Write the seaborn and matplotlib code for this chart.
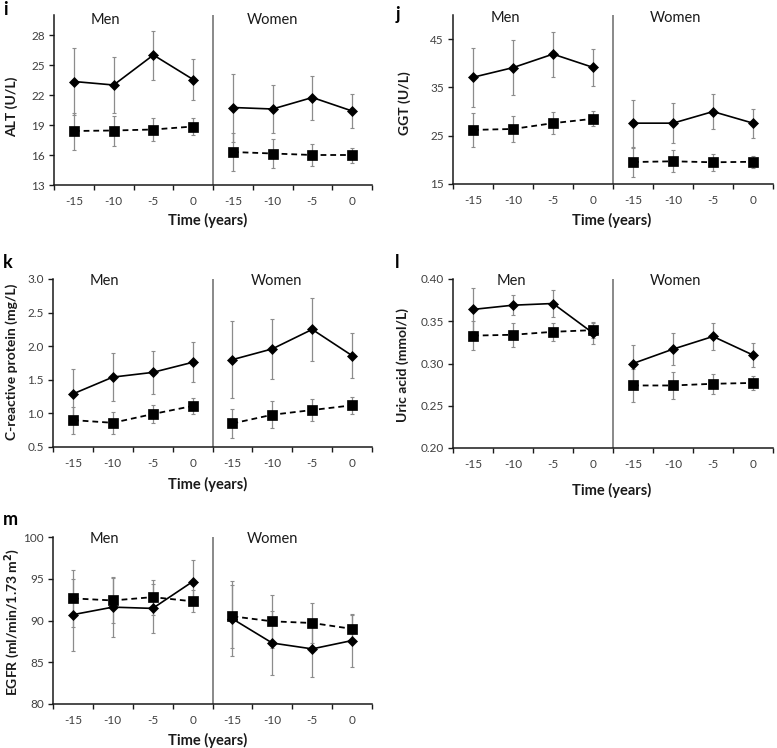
import numpy as np
import pandas as pd
import matplotlib
matplotlib.use("Agg")
import matplotlib.pyplot as plt
import seaborn as sns

# ---------------- data ----------------
times = [-15, -10, -5, 0]
sexes = ["Men", "Women"]

# ALT (U/L)
alt_men_solid = [23.35, 23.0, 26.0, 23.55]
alt_men_solid_err = [3.35, 2.8, 2.45, 2.05]
alt_men_dash = [18.4, 18.45, 18.55, 18.85]
alt_men_dash_err = [1.85, 1.5, 1.15, 0.85]
alt_women_solid = [20.75, 20.6, 21.75, 20.4]
alt_women_solid_err = [3.4, 2.35, 2.2, 1.7]
alt_women_dash = [16.3, 16.15, 16.0, 16.0]
alt_women_dash_err = [1.85, 1.45, 1.1, 0.75]

# GGT (U/L)
ggt_men_solid = [37.1, 39.1, 41.9, 39.15]
ggt_men_solid_err = [6.05, 5.7, 4.65, 3.9]
ggt_men_dash = [26.2, 26.4, 27.6, 28.5]
ggt_men_dash_err = [3.5, 2.75, 2.3, 1.55]
ggt_women_solid = [27.6, 27.6, 30.0, 27.6]
ggt_women_solid_err = [4.85, 4.2, 3.6, 3.0]
ggt_women_dash = [19.55, 19.7, 19.5, 19.6]
ggt_women_dash_err = [3.0, 2.3, 1.8, 1.2]

# C-reactive protein (mg/L)
crp_men_solid = [1.29, 1.54, 1.61, 1.76]
crp_men_solid_err = [0.37, 0.36, 0.32, 0.30]
crp_men_dash = [0.90, 0.86, 0.99, 1.11]
crp_men_dash_err = [0.20, 0.16, 0.14, 0.12]
crp_women_solid = [1.80, 1.96, 2.25, 1.86]
crp_women_solid_err = [0.57, 0.45, 0.47, 0.34]
crp_women_dash = [0.85, 0.98, 1.05, 1.12]
crp_women_dash_err = [0.22, 0.20, 0.16, 0.13]

# Uric acid (mmol/L)
ua_men_solid = [0.364, 0.369, 0.371, 0.336]
ua_men_solid_err = [0.025, 0.012, 0.016, 0.013]
ua_men_dash = [0.333, 0.334, 0.3375, 0.3395]
ua_men_dash_err = [0.017, 0.014, 0.011, 0.009]
ua_women_solid = [0.300, 0.317, 0.332, 0.310]
ua_women_solid_err = [0.022, 0.019, 0.016, 0.014]
ua_women_dash = [0.274, 0.274, 0.276, 0.277]
ua_women_dash_err = [0.019, 0.016, 0.012, 0.008]

# EGFR (ml/min/1.73 m2)
egfr_men_solid = [90.7, 91.6, 91.45, 94.65]
egfr_men_solid_err = [4.3, 3.6, 2.9, 2.65]
egfr_men_dash = [92.65, 92.4, 92.8, 92.3]
egfr_men_dash_err = [3.4, 2.7, 2.1, 1.3]
egfr_women_solid = [90.2, 87.3, 86.6, 87.6]
egfr_women_solid_err = [4.5, 3.8, 3.4, 3.2]
egfr_women_dash = [90.5, 89.9, 89.7, 89.0]
egfr_women_dash_err = [3.8, 3.2, 2.4, 1.6]

# y-axis tick labels
alt_ticks = [13, 16, 19, 22, 25, 28]
ggt_ticks = [15, 25, 35, 45]
crp_ticks = [0.5, 1.0, 1.5, 2.0, 2.5, 3.0]
ua_ticks = [0.20, 0.25, 0.30, 0.35, 0.40]
egfr_ticks = [80, 85, 90, 95, 100]

# ---------------- style ----------------
sns.set_theme(style="white")
plt.rcParams["font.family"] = ["Lato", "DejaVu Sans"]

W, H = 777, 748
fig = plt.figure(figsize=(W / 100, H / 100), dpi=100)
fig.patch.set_facecolor("white")

AX_COLOR = "#1a1a1a"
TICK_COLOR = "#404040"
ERR_COLOR = "#8c8c8c"


def px_axes(l, r, t, b):
    return fig.add_axes([l / W, 1 - b / H, (r - l) / W, (b - t) / H])


panels = [
    dict(letter="i", box=(54, 372, 15, 185), ylim=(13, 30), ticks=alt_ticks, fmt="{:.0f}",
         ylabel="ALT (U/L)",
         ms=alt_men_solid, mse=alt_men_solid_err, md=alt_men_dash, mde=alt_men_dash_err,
         ws=alt_women_solid, wse=alt_women_solid_err, wd=alt_women_dash, wde=alt_women_dash_err,
         men=(0.8, 20), women=(5.0, 20), xl=(208, 220), yl=(12, 107), lt=(3, 15)),
    dict(letter="j", box=(453, 773, 15, 184), ylim=(15, 50), ticks=ggt_ticks, fmt="{:.0f}",
         ylabel="GGT (U/L)",
         ms=ggt_men_solid, mse=ggt_men_solid_err, md=ggt_men_dash, mde=ggt_men_dash_err,
         ws=ggt_women_solid, wse=ggt_women_solid_err, wd=ggt_women_dash, wde=ggt_women_dash_err,
         men=(0.8, 18), women=(5.05, 18), xl=(612, 220), yl=(405, 103), lt=(396, 20)),
    dict(letter="k", box=(53, 372, 279, 447), ylim=(0.5, 3.0), ticks=crp_ticks, fmt="{:.1f}",
         ylabel="C-reactive protein (mg/L)",
         ms=crp_men_solid, mse=crp_men_solid_err, md=crp_men_dash, mde=crp_men_dash_err,
         ws=crp_women_solid, wse=crp_women_solid_err, wd=crp_women_dash, wde=crp_women_dash_err,
         men=(0.8, 281), women=(5.1, 281), xl=(208, 484), yl=(12, 362), lt=(3, 268)),
    dict(letter="l", box=(453, 773, 279, 448), ylim=(0.20, 0.40), ticks=ua_ticks, fmt="{:.2f}",
         ylabel="Uric acid (mmol/L)",
         ms=ua_men_solid, mse=ua_men_solid_err, md=ua_men_dash, mde=ua_men_dash_err,
         ws=ua_women_solid, wse=ua_women_solid_err, wd=ua_women_dash, wde=ua_women_dash_err,
         men=(0.97, 281), women=(5.05, 281), xl=(612, 490), yl=(403, 365), lt=(395, 268)),
    dict(letter="m", box=(53, 372, 537, 704), ylim=(80, 100), ticks=egfr_ticks, fmt="{:.0f}",
         ylabel="EGFR (ml/min/1.73 m$^{\\mathbf{2}}$)",
         ms=egfr_men_solid, mse=egfr_men_solid_err, md=egfr_men_dash, mde=egfr_men_dash_err,
         ws=egfr_women_solid, wse=egfr_women_solid_err, wd=egfr_women_dash, wde=egfr_women_dash_err,
         men=(0.78, 539), women=(5.0, 539), xl=(208, 740), yl=(12, 622), lt=(3, 525)),
]

cat_labels = [str(t) for t in times] * 2

for p in panels:
    l, r, t, b = p["box"]
    ax = px_axes(l, r, t, b)
    ax.set_facecolor("white")

    series = [
        (p["ms"], p["mse"], 0, "solid"),
        (p["md"], p["mde"], 0, "dash"),
        (p["ws"], p["wse"], 4, "solid"),
        (p["wd"], p["wde"], 4, "dash"),
    ]
    # error bars first (behind)
    for vals, errs, off, kind in series:
        pos = np.arange(len(vals)) + off
        ax.errorbar(pos, vals, yerr=errs, fmt="none", ecolor=ERR_COLOR,
                    elinewidth=0.9, capsize=1.6, capthick=0.8, zorder=2)
    for vals, errs, off, kind in series:
        pos = np.arange(len(vals)) + off
        df = pd.DataFrame({"pos": pos, "val": vals})
        if kind == "solid":
            sns.lineplot(data=df, x="pos", y="val", ax=ax, color="black", lw=1.2,
                         marker="D", markersize=5.6, markeredgecolor="black",
                         markeredgewidth=0.5, zorder=4, errorbar=None)
        else:
            sns.lineplot(data=df, x="pos", y="val", ax=ax, color="black", lw=1.3,
                         marker="s", markersize=7.0, markeredgecolor="black",
                         markeredgewidth=0.5, dashes=False, zorder=3, errorbar=None,
                         linestyle=(0, (3.2, 2.2)))

    ax.set_xlim(-0.5, 7.5)
    ax.set_ylim(*p["ylim"])
    ax.axvline(3.5, color="#808080", lw=1.3, zorder=1)

    ax.set_xticks(np.arange(8))
    ax.set_xticklabels(cat_labels)
    ax.set_xticks(np.arange(-0.5, 8.0, 1.0), minor=True)
    ax.tick_params(axis="x", which="major", length=0, pad=8, labelsize=8.5,
                   labelcolor=TICK_COLOR)
    ax.tick_params(axis="x", which="minor", length=3.5, width=1.0, color=AX_COLOR,
                   direction="out", bottom=True)
    ax.set_yticks(p["ticks"])
    ax.set_yticklabels([p["fmt"].format(v) for v in p["ticks"]])
    ax.tick_params(axis="y", which="major", length=3.5, width=1.0, color=AX_COLOR,
                   direction="out", left=True, pad=3, labelsize=8.5,
                   labelcolor=TICK_COLOR)

    for s in ["top", "right"]:
        ax.spines[s].set_visible(False)
    for s in ["left", "bottom"]:
        ax.spines[s].set_color(AX_COLOR)
        ax.spines[s].set_linewidth(1.1)
    ax.grid(False)

    # Men / Women titles
    def yfrac(py):
        return (b - py) / (b - t)

    ax.text(p["men"][0], yfrac(p["men"][1]), "Men", transform=ax.get_xaxis_transform(),
            ha="center", va="center", fontsize=10.5, color="#1a1a1a")
    ax.text(p["women"][0], yfrac(p["women"][1]), "Women", transform=ax.get_xaxis_transform(),
            ha="center", va="center", fontsize=10.5, color="#1a1a1a")

    # axis labels
    ax.set_xlabel("Time (years)", fontsize=10.5, fontweight="bold", color="#1a1a1a")
    ax.set_ylabel(p["ylabel"], fontsize=10, fontweight="bold", color="#1a1a1a")
    ax.xaxis.label.set_va("center")
    ax.yaxis.label.set_va("center")
    xlx, xly = p["xl"]
    ax.xaxis.set_label_coords((xlx - l) / (r - l), (b - xly) / (b - t))
    ylx, yly = p["yl"]
    ax.yaxis.set_label_coords((ylx - l) / (r - l), (b - yly) / (b - t))

    # panel letter
    fig.text(p["lt"][0] / W, 1 - p["lt"][1] / H, p["letter"], fontsize=13,
             fontweight="bold", ha="left", va="baseline", color="black")

fig.savefig("out.png", dpi=100, facecolor="white")
